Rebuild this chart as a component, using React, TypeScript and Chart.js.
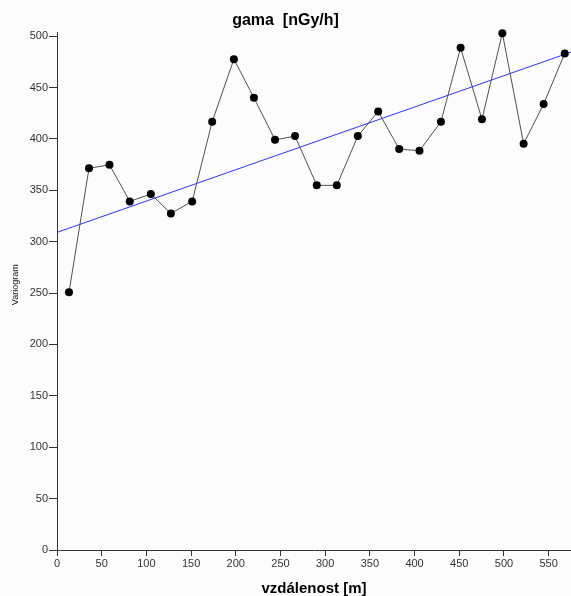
import React, { useEffect, useRef } from "react";
import { Chart, registerables } from "chart.js";

Chart.register(...registerables);

const distances = [13.4, 35.8, 58.7, 81.4, 105, 127.4, 151.2, 173.6, 197.9, 220.3, 243.9, 266.3, 290.6, 313, 336.5, 359.3, 382.8, 405.5, 429.5, 451.5, 475.4, 498.2, 522, 544.4, 568];
const variogram = [250.7, 371.4, 374.8, 339.2, 346.3, 327.5, 339.2, 416.7, 477.6, 440, 399.1, 402.7, 354.8, 354.8, 402.7, 426.7, 390.1, 388.5, 416.7, 488.6, 419, 502.9, 395.3, 433.9, 483.2];
const trendX = [0, 575];
const trendY = [309, 484.4];
const xTicks = [0, 50, 100, 150, 200, 250, 300, 350, 400, 450, 500, 550];
const yTicks = [0, 50, 100, 150, 200, 250, 300, 350, 400, 450, 500];

const FONT = "Arial, 'Liberation Sans', sans-serif";

const bgPlugin = {
  id: "bg",
  beforeDraw(chart: any) {
    const ctx = chart.ctx;
    ctx.save();
    ctx.fillStyle = "#fcfcfc";
    ctx.fillRect(0, 0, chart.width, chart.height);
    ctx.restore();
  },
};

export default function App() {
  const ref = useRef<HTMLCanvasElement>(null);
  useEffect(() => {
    const canvas = ref.current;
    if (!canvas) return;
    const chart = new Chart(canvas, {
      type: "scatter",
      data: {
        datasets: [
          {
            label: "variogram",
            data: distances.map((d, i) => ({ x: d, y: variogram[i] })),
            showLine: true,
            borderColor: "#505050",
            borderWidth: 1,
            pointBackgroundColor: "#000000",
            pointBorderColor: "#000000",
            pointRadius: 4,
            pointBorderWidth: 0,
            clip: false,
            order: 1,
          },
          {
            label: "trend",
            data: trendX.map((d, i) => ({ x: d, y: trendY[i] })),
            showLine: true,
            borderColor: "#3030ff",
            borderWidth: 1,
            pointRadius: 0,
            order: 2,
          },
        ],
      },
      options: {
        responsive: false,
        animation: false,
        devicePixelRatio: 1,
        layout: { padding: 0, autoPadding: false },
        plugins: {
          legend: { display: false },
          tooltip: { enabled: false },
          title: {
            display: true,
            text: "gama  [nGy/h]",
            color: "#000",
            font: { family: FONT, size: 16, weight: "bold", lineHeight: 1 },
            padding: { top: 12.5, bottom: 3.5 },
          },
        },
        scales: {
          x: {
            type: "linear",
            min: 0,
            max: 575,
            afterBuildTicks: (scale: any) => {
              scale.ticks = xTicks.map((v) => ({ value: v }));
            },
            afterFit: (scale: any) => {
              scale.height = 46;
            },
            grid: {
              display: true,
              drawOnChartArea: false,
              drawTicks: true,
              tickLength: 6,
              color: "#333",
            },
            border: { display: true, color: "#333", width: 1 },
            ticks: {
              color: "#333",
              font: { family: FONT, size: 11 },
              padding: 1,
              maxRotation: 0,
              autoSkip: false,
            },
            title: {
              display: true,
              text: "vzdálenost [m]",
              color: "#000",
              font: { family: FONT, size: 15, weight: "bold", lineHeight: 1 },
              padding: { top: 0, bottom: -0.5 },
            },
          },
          y: {
            type: "linear",
            min: 0,
            max: 504,
            afterBuildTicks: (scale: any) => {
              scale.ticks = yTicks.map((v) => ({ value: v }));
            },
            afterFit: (scale: any) => {
              scale.width = 57;
            },
            grid: {
              display: true,
              drawOnChartArea: false,
              drawTicks: true,
              tickLength: 8,
              color: "#333",
            },
            border: { display: true, color: "#333", width: 1 },
            ticks: {
              color: "#333",
              font: { family: FONT, size: 11 },
              padding: 1,
              autoSkip: false,
            },
            title: {
              display: true,
              text: "     Variogram",
              color: "#222",
              font: { family: FONT, size: 9, lineHeight: 1.2 },
              padding: { top: 10.6, bottom: 0 },
            },
          },
        },
      },
      plugins: [bgPlugin],
    } as any);
    return () => chart.destroy();
  }, []);
  return (
    <canvas
      ref={ref}
      width={571}
      height={596}
      style={{ position: "fixed", left: 0, top: 0, width: 571, height: 596 }}
    />
  );
}
